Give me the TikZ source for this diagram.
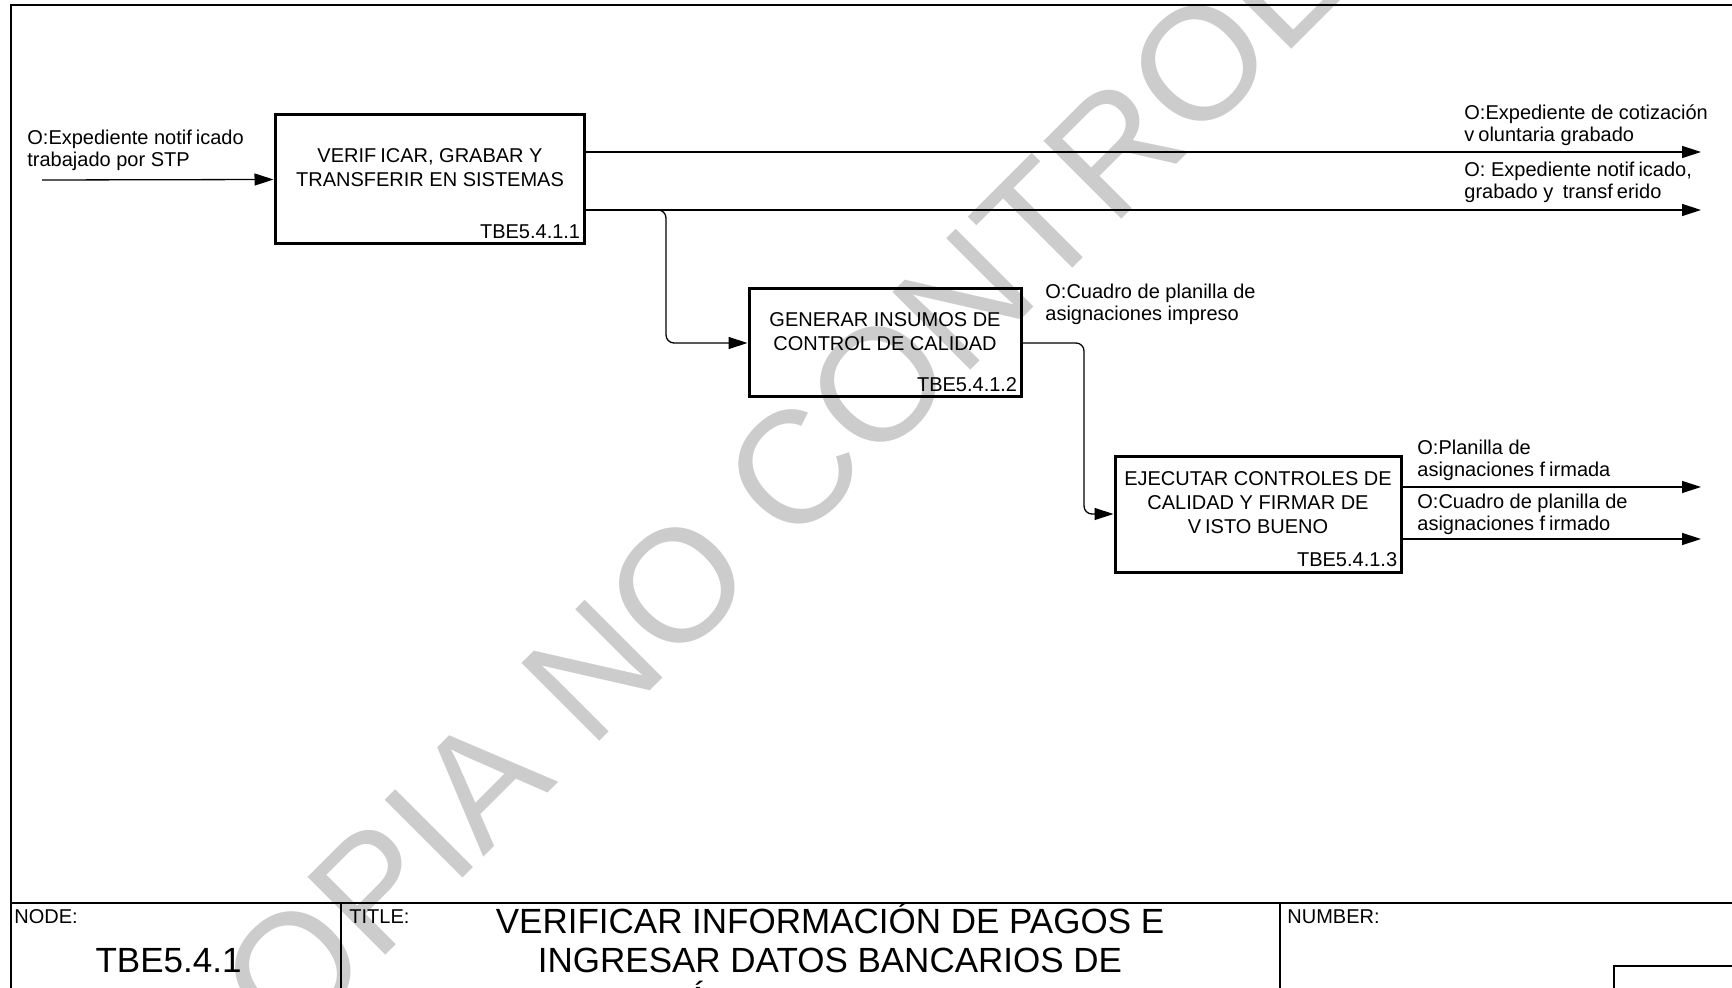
\documentclass[tikz,border=0pt]{standalone}
\usepackage{fontspec}
\setmainfont{Liberation Sans}
\usetikzlibrary{arrows.meta,calc}
\definecolor{wm}{RGB}{204,204,204}
\newcommand\gp{\kern0.2em}
\begin{document}
\begin{tikzpicture}[x=0.5pt,y=-0.5pt]
\tikzset{
  frame/.style={line width=0.8pt},
  procbox/.style={draw, line width=1.5pt, inner sep=0pt},
  lbl/.style={font=\fontsize{10}{11}\selectfont, align=left, inner sep=0pt},
  boxtxt/.style={font=\fontsize{10}{12}\selectfont, align=center, inner sep=0pt},
  code/.style={font=\fontsize{10}{12}\selectfont, inner sep=0pt},
  conn/.style={line width=0.65pt, -{Triangle[length=9.5pt,width=6pt]}},
  tb/.style={font=\fontsize{10}{12}\selectfont, inner sep=0pt},
  big/.style={font=\fontsize{17.5}{19.5}\selectfont, inner sep=0pt},
  wmark/.style={font=\fontsize{80}{80}\selectfont, text=wm, inner sep=0pt, anchor=base west, rotate=45}
}
\useasboundingbox (0,0) rectangle (1732,988);
\clip (0,0) rectangle (1732,988);
\fill[white] (0,0) rectangle (1732,988);

% watermark
\node[wmark] (wmtext) at (207,1134) {COPIA NO CONTROLADA};

% frame
\draw[frame] (11,988) -- (11,5) -- (1732,5);
\draw[frame] (11,903) -- (1732,903);
\draw[frame] (341,903) -- (341,988);
\draw[frame] (1280,903) -- (1280,988);
\draw[line width=1.2pt] (1614,988) -- (1614,966) -- (1732,966);

% boxes
\node[procbox, minimum width=154.5pt, minimum height=64.5pt] (b1) at (429.5,179.5) {};
\node[boxtxt] (t1) at (430,168) {VERIF\gp ICAR, GRABAR Y\\TRANSFERIR EN SISTEMAS};
\node[code, anchor=south east] (c1) at ($(b1.south east)+(-5,-6)$) {TBE5.4.1.1};

\node[procbox, minimum width=136pt, minimum height=54pt] (b2) at (885,343) {};
\node[boxtxt] (t2) at (885,331.5) {GENERAR INSUMOS DE\\CONTROL DE CALIDAD};
\node[code, anchor=south east] (c2) at ($(b2.south east)+(-5,-6)$) {TBE5.4.1.2};

\node[procbox, minimum width=143pt, minimum height=58pt] (b3) at (1258,514) {};
\node[boxtxt] (t3) at (1258,503) {EJECUTAR CONTROLES DE\\CALIDAD Y FIRMAR DE\\V\gp ISTO BUENO};
\node[code, anchor=south east] (c3) at ($(b3.south east)+(-5,-6)$) {TBE5.4.1.3};

% connectors
\coordinate (inS) at (42,180);
\coordinate (o1) at (1701,152);
\coordinate (o2) at (1701,210);
\coordinate (br) at (640,210);
\coordinate (bv) at (666,343);
\coordinate (cv) at (1084,514);
\coordinate (o3) at (1701,487);
\coordinate (o4) at (1701,539);

\draw[conn] (inS) -- (b1.west);
\draw[conn] (b1.east |- o1) -- (o1);
\draw[conn] (b1.east |- o2) -- (o2);
\draw[conn, rounded corners=4pt] (br) -| (bv) -- (b2.west);
\draw[conn, rounded corners=4pt] (b2.east) -| (cv) -- (b3.west);
\draw[conn] (b3.east |- o3) -- (o3);
\draw[conn] (b3.east |- o4) -- (o4);

% labels
\node[lbl, anchor=west] (l0) at (27,150) {O:Expediente notif\gp icado\\trabajado por STP};
\node[lbl, anchor=west] (l1) at (1464,125) {O:Expediente de cotización\\v\gp oluntaria grabado};
\node[lbl, anchor=west] (l2) at (1464,182.5) {O: Expediente notif\gp icado,\\grabado y\gp\ transf\gp erido};
\node[lbl, anchor=west] (l3) at (1045,304) {O:Cuadro de planilla de\\asignaciones impreso};
\node[lbl, anchor=west] (l4) at (1417,460) {O:Planilla de\\asignaciones f\gp irmada};
\node[lbl, anchor=west] (l5) at (1417,514.5) {O:Cuadro de planilla de\\asignaciones f\gp irmado};

% title block texts
\node[tb, anchor=base west] (nodel) at (14,923) {NODE:};
\node[tb, anchor=base west] (titlel) at (349,923) {TITLE:};
\node[tb, anchor=base west] (numl) at (1287,923) {NUMBER:};
\node[big, anchor=base] (nodeval) at (168.5,972.5) {TBE5.4.1};
\node[big, anchor=base] (title1) at (830,933.5) {VERIFICAR INFORMACIÓN DE PAGOS E};
\node[big, anchor=base] (title2) at (830,972.5) {INGRESAR DATOS BANCARIOS DE};
\node[big, anchor=base] (title3) at (698,1011.5) {Á};
\end{tikzpicture}
\end{document}
